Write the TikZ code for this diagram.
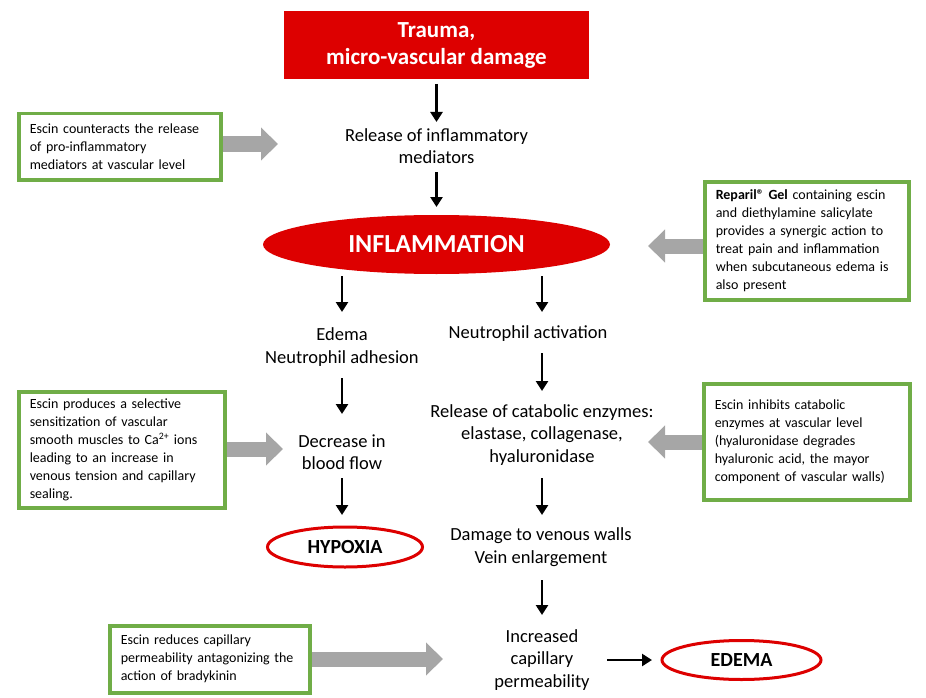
\documentclass[tikz,border=0pt]{standalone}
\usepackage{fontspec}
\setmainfont{Carlito}
\usetikzlibrary{arrows.meta,shapes.geometric}
\definecolor{myred}{RGB}{221,0,0}
\definecolor{mygreen}{RGB}{112,173,71}
\definecolor{mygrey}{RGB}{166,166,166}
\begin{document}
\begin{tikzpicture}[x=1pt,y=-1pt,
  txt/.style={align=center, inner sep=0pt, font=\fontsize{18.5}{22.5}\selectfont},
  gbox/.style={draw=mygreen, line width=3.5pt, fill=white, align=left, inner xsep=11pt, inner ysep=0pt, font=\fontsize{14}{18}\selectfont, anchor=north west},
  blk/.style={line width=2.5pt, -{Triangle[length=10pt,width=12pt]}},
  garrow/.style={draw=mygrey, line width=15pt, -{Triangle[length=17pt,width=32pt]}},
  redell/.style={ellipse, draw=myred, line width=3pt, fill=white, inner sep=0pt, font=\bfseries\fontsize{20}{24}\selectfont},
]
\useasboundingbox (0,0) rectangle (926,698);

% main flow
\node[fill=myred, minimum width=305pt, minimum height=68pt, inner sep=0pt, text=white, align=center, font=\bfseries\fontsize{23}{27}\selectfont] (trauma) at (436.5,45) {Trauma,\\micro-vascular damage};
\node[txt] (release) at (436.5,146) {Release of inflammatory\\mediators};
\node[ellipse, fill=myred, minimum width=347pt, minimum height=59pt, inner sep=0pt, text=white, font=\bfseries\fontsize{26}{30}\selectfont] (infl) at (436.5,244.5) {INFLAMMATION};
\node[txt] (edema1) at (342,347) {Edema\\Neutrophil adhesion};
\node[txt] (neuact) at (528,334) {Neutrophil activation};
\node[txt] (decrease) at (342,452) {Decrease in\\blood flow};
\node[txt] (catab) at (542,435) {Release of catabolic enzymes:\\elastase, collagenase,\\hyaluronidase};
\node[redell, minimum width=155pt, minimum height=40pt] (hypoxia) at (345,547) {HYPOXIA};
\node[txt] (damage) at (541,547) {Damage to venous walls\\Vein enlargement};
\node[txt] (perm) at (542,660) {Increased\\capillary\\permeability};
\node[redell, minimum width=159pt, minimum height=39pt] (edemaE) at (741.5,660) {EDEMA};

% black arrows
\draw[blk, shorten <=39pt, shorten >=24pt] (trauma.center) -- (release.center);
\draw[blk, shorten <=26pt, shorten >=37.5pt] (release.center) -- (infl.center);
\draw[blk, shorten <=31.5pt, shorten >=35pt] (infl.center -| edema1.center) -- (edema1.center);
\draw[blk, shorten <=31.5pt, shorten >=22pt] (infl.center -| catab.center) -- (neuact.center -| catab.center);
\draw[blk, shorten <=31pt, shorten >=38pt] (edema1.center) -- (decrease.center);
\draw[blk, shorten <=19pt, shorten >=44pt] (neuact.center -| catab.center) -- (catab.center);
\draw[blk, shorten <=26pt, shorten >=32pt] (decrease.center) -- (decrease.center |- hypoxia.center);
\draw[blk, shorten <=43pt, shorten >=32pt] (catab.center) -- (catab.center |- damage.center);
\draw[blk, shorten <=33pt, shorten >=45pt] (damage.center -| perm.center) -- (perm.center);
\draw[blk, shorten <=65pt, shorten >=89.5pt] (perm.center) -- (edemaE.center);

% green boxes
\node[gbox, text width=180pt, minimum height=66pt] (b1) at (17,112) {Escin counteracts the release\\of pro-inflammatory\\mediators at vascular level};
\node[gbox, text width=182pt, minimum height=118pt] (b2) at (703,180) {\textbf{Reparil® Gel} containing escin\\and diethylamine salicylate\\provides a synergic action to\\treat pain and inflammation\\when subcutaneous edema is\\also present};
\node[gbox, text width=184pt, minimum height=116pt] (b3) at (17,390) {Escin produces a selective\\sensitization of vascular\\smooth muscles to Ca\textsuperscript{2+} ions\\leading to an increase in\\venous tension and capillary\\sealing.};
\node[gbox, text width=184pt, minimum height=116pt] (b4) at (702,382) {Escin inhibits catabolic\\enzymes at vascular level\\(hyaluronidase degrades\\hyaluronic acid, the mayor\\component of vascular walls)};
\node[gbox, text width=178pt, minimum height=67pt] (b5) at (108,624) {Escin reduces capillary\\permeability antagonizing the\\action of bradykinin};

% grey arrows
\coordinate (t1) at (278,144);
\coordinate (t2) at (648,246);
\coordinate (t3) at (283,449);
\coordinate (t4) at (648,442);
\coordinate (t5) at (443,659);
\draw[garrow] (t1 -| b1.east) -- (t1);
\draw[garrow] (t2 -| b2.west) -- (t2);
\draw[garrow] (t3 -| b3.east) -- (t3);
\draw[garrow] (t4 -| b4.west) -- (t4);
\draw[garrow] (t5 -| b5.east) -- (t5);
\end{tikzpicture}
\end{document}
